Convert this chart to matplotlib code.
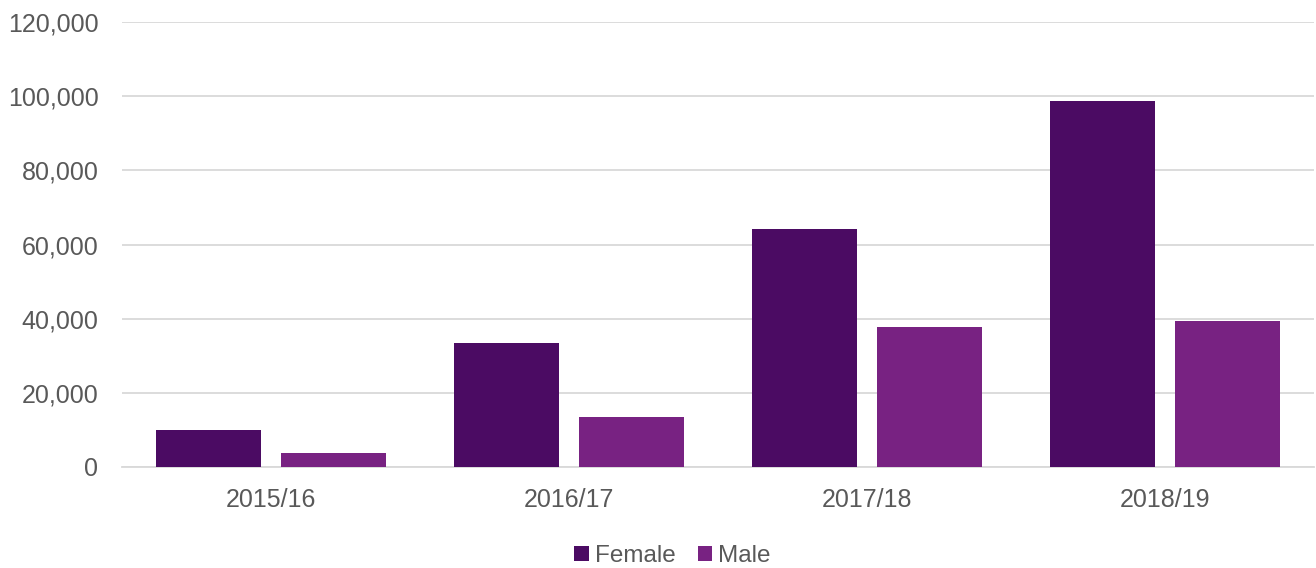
import matplotlib.pyplot as plt
import numpy as np
from matplotlib.ticker import FuncFormatter

# Yearly counts by sex
years = ["2015/16", "2016/17", "2017/18", "2018/19"]
female = [10100, 33400, 64300, 98800]
male = [3800, 13350, 37700, 39500]

FEMALE_COLOR = "#4b0b63"
MALE_COLOR = "#782282"
GRID_COLOR = "#d9d9d9"
TEXT_COLOR = "#595959"

plt.rcParams["font.family"] = ["Liberation Sans", "DejaVu Sans"]

fig = plt.figure(figsize=(13.16, 5.68), dpi=100)
ax = fig.add_axes([122 / 1316, 101 / 568, 1192 / 1316, 445 / 568])

x = np.arange(len(years))
width = 0.352
offset = 0.211

ax.bar(x - offset, female, width, color=FEMALE_COLOR, label="Female", zorder=3)
ax.bar(x + offset, male, width, color=MALE_COLOR, label="Male", zorder=3)

ax.set_xlim(-0.5, len(years) - 0.5)
ax.set_ylim(0, 120000)
ax.set_yticks(np.arange(0, 120001, 20000))
ax.yaxis.set_major_formatter(FuncFormatter(lambda v, _: f"{int(v):,}"))
ax.set_xticks(x)
ax.set_xticklabels(years)

ax.grid(axis="y", color=GRID_COLOR, linewidth=1.3, zorder=0)
for side in ["top", "right", "left"]:
    ax.spines[side].set_visible(False)
ax.spines["bottom"].set_color(GRID_COLOR)
ax.spines["bottom"].set_linewidth(1.3)

ax.tick_params(axis="y", length=0, pad=17, labelsize=18, labelcolor=TEXT_COLOR)
ax.tick_params(axis="x", length=0, pad=15, labelsize=18, labelcolor=TEXT_COLOR)

# legend sits a little left of the plot centre
ax.legend(
    loc="center",
    bbox_to_anchor=(0.462, -0.2),
    ncol=2,
    frameon=False,
    fontsize=17.5,
    labelcolor=TEXT_COLOR,
    handlelength=0.6,
    handleheight=0.6,
    handletextpad=0.25,
    columnspacing=0.9,
)

fig.savefig("out.png", dpi=100)
